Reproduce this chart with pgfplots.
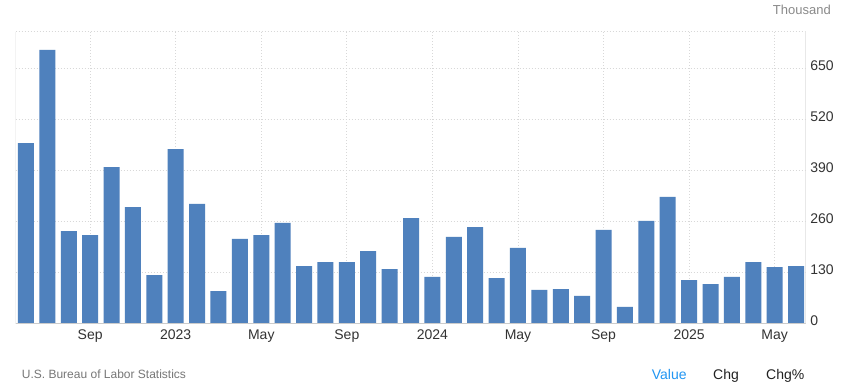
\documentclass[border=0pt]{standalone}
\usepackage{pgfplots}
\pgfplotsset{compat=1.18}
\usepackage{fontspec}
\setmainfont{Liberation Sans}
\definecolor{barblue}{HTML}{4F81BD}
\definecolor{tickgray}{HTML}{333333}
\definecolor{gridgray}{HTML}{D8D8D8}
\definecolor{bordergray}{HTML}{DDDDDD}
\definecolor{axisgray}{HTML}{CCCCCC}
\definecolor{srcgray}{HTML}{777777}
\definecolor{unitgray}{HTML}{8A8A8A}
\definecolor{valblue}{HTML}{2196F3}
\definecolor{chgdark}{HTML}{222222}
\begin{document}
\begin{tikzpicture}
\fill[white] (0,0) rectangle (841bp,392bp);
\path[use as bounding box] (0,0) rectangle (841bp,392bp);
\begin{axis}[
  at={(15.7bp,68.3bp)}, anchor=south west,
  scale only axis, width=790bp, height=292bp,
  xmin=-0.48, xmax=36.45, ymin=0, ymax=744,
  axis line style={draw=none},
  ytick={0,130,260,390,520,650}, yticklabel pos=right,
  xtick={3,7,11,15,19,23,27,31,35},
  xticklabels={Sep,2023,May,Sep,2024,May,Sep,2025,May},
  major tick length=0pt,
  grid=major,
  grid style={draw=gridgray, line width=0.8bp, dash pattern=on 1bp off 2bp},
  tick label style={font=\fontsize{14bp}{16bp}\selectfont, text=tickgray},
  xticklabel style={anchor=north, inner sep=0pt, yshift=-6bp},
  yticklabel style={anchor=west, inner sep=0pt, xshift=4.5bp, yshift=3bp},
  /pgf/number format/assume math mode=true,
  ybar, bar width=16bp,
]
\addplot[fill=barblue, draw=none] coordinates {
(0,460) (1,698) (2,236) (3,226) (4,399) (5,297) (6,124) (7,445) (8,305) (9,83)
(10,216) (11,226) (12,257) (13,147) (14,157) (15,157) (16,185) (17,139) (18,269) (19,119)
(20,221) (21,246) (22,116) (23,193) (24,86) (25,88) (26,71) (27,239) (28,43) (29,262)
(30,323) (31,111) (32,101) (33,119) (34,157) (35,144) (36,147)
};
\draw[bordergray, line width=1bp] (rel axis cs:0,0) -- (rel axis cs:0,1);
\draw[bordergray, line width=1bp] (rel axis cs:1,0) -- (rel axis cs:1,1);
\draw[gridgray, line width=0.8bp, dash pattern=on 1bp off 2bp] (rel axis cs:0,1) -- (rel axis cs:1,1);
\draw[axisgray, line width=1bp] (rel axis cs:0,0) -- (rel axis cs:1,0);
\end{axis}
\node[anchor=base east, inner sep=0pt, text=unitgray, font=\fontsize{13bp}{15bp}\selectfont] at (831bp,377bp) {Thousand};
\node[anchor=base west, inner sep=0pt, text=srcgray, font=\fontsize{12bp}{14bp}\selectfont] at (21.7bp,13.7bp) {U.S. Bureau of Labor Statistics};
\node[anchor=base west, inner sep=0pt, text=valblue, font=\fontsize{14bp}{16bp}\selectfont] at (651.7bp,13bp) {Value};
\node[anchor=base west, inner sep=0pt, text=chgdark, font=\fontsize{14bp}{16bp}\selectfont] at (713bp,13bp) {Chg};
\node[anchor=base west, inner sep=0pt, text=chgdark, font=\fontsize{14bp}{16bp}\selectfont] at (766bp,13bp) {Chg\%};
\end{tikzpicture}
\end{document}
